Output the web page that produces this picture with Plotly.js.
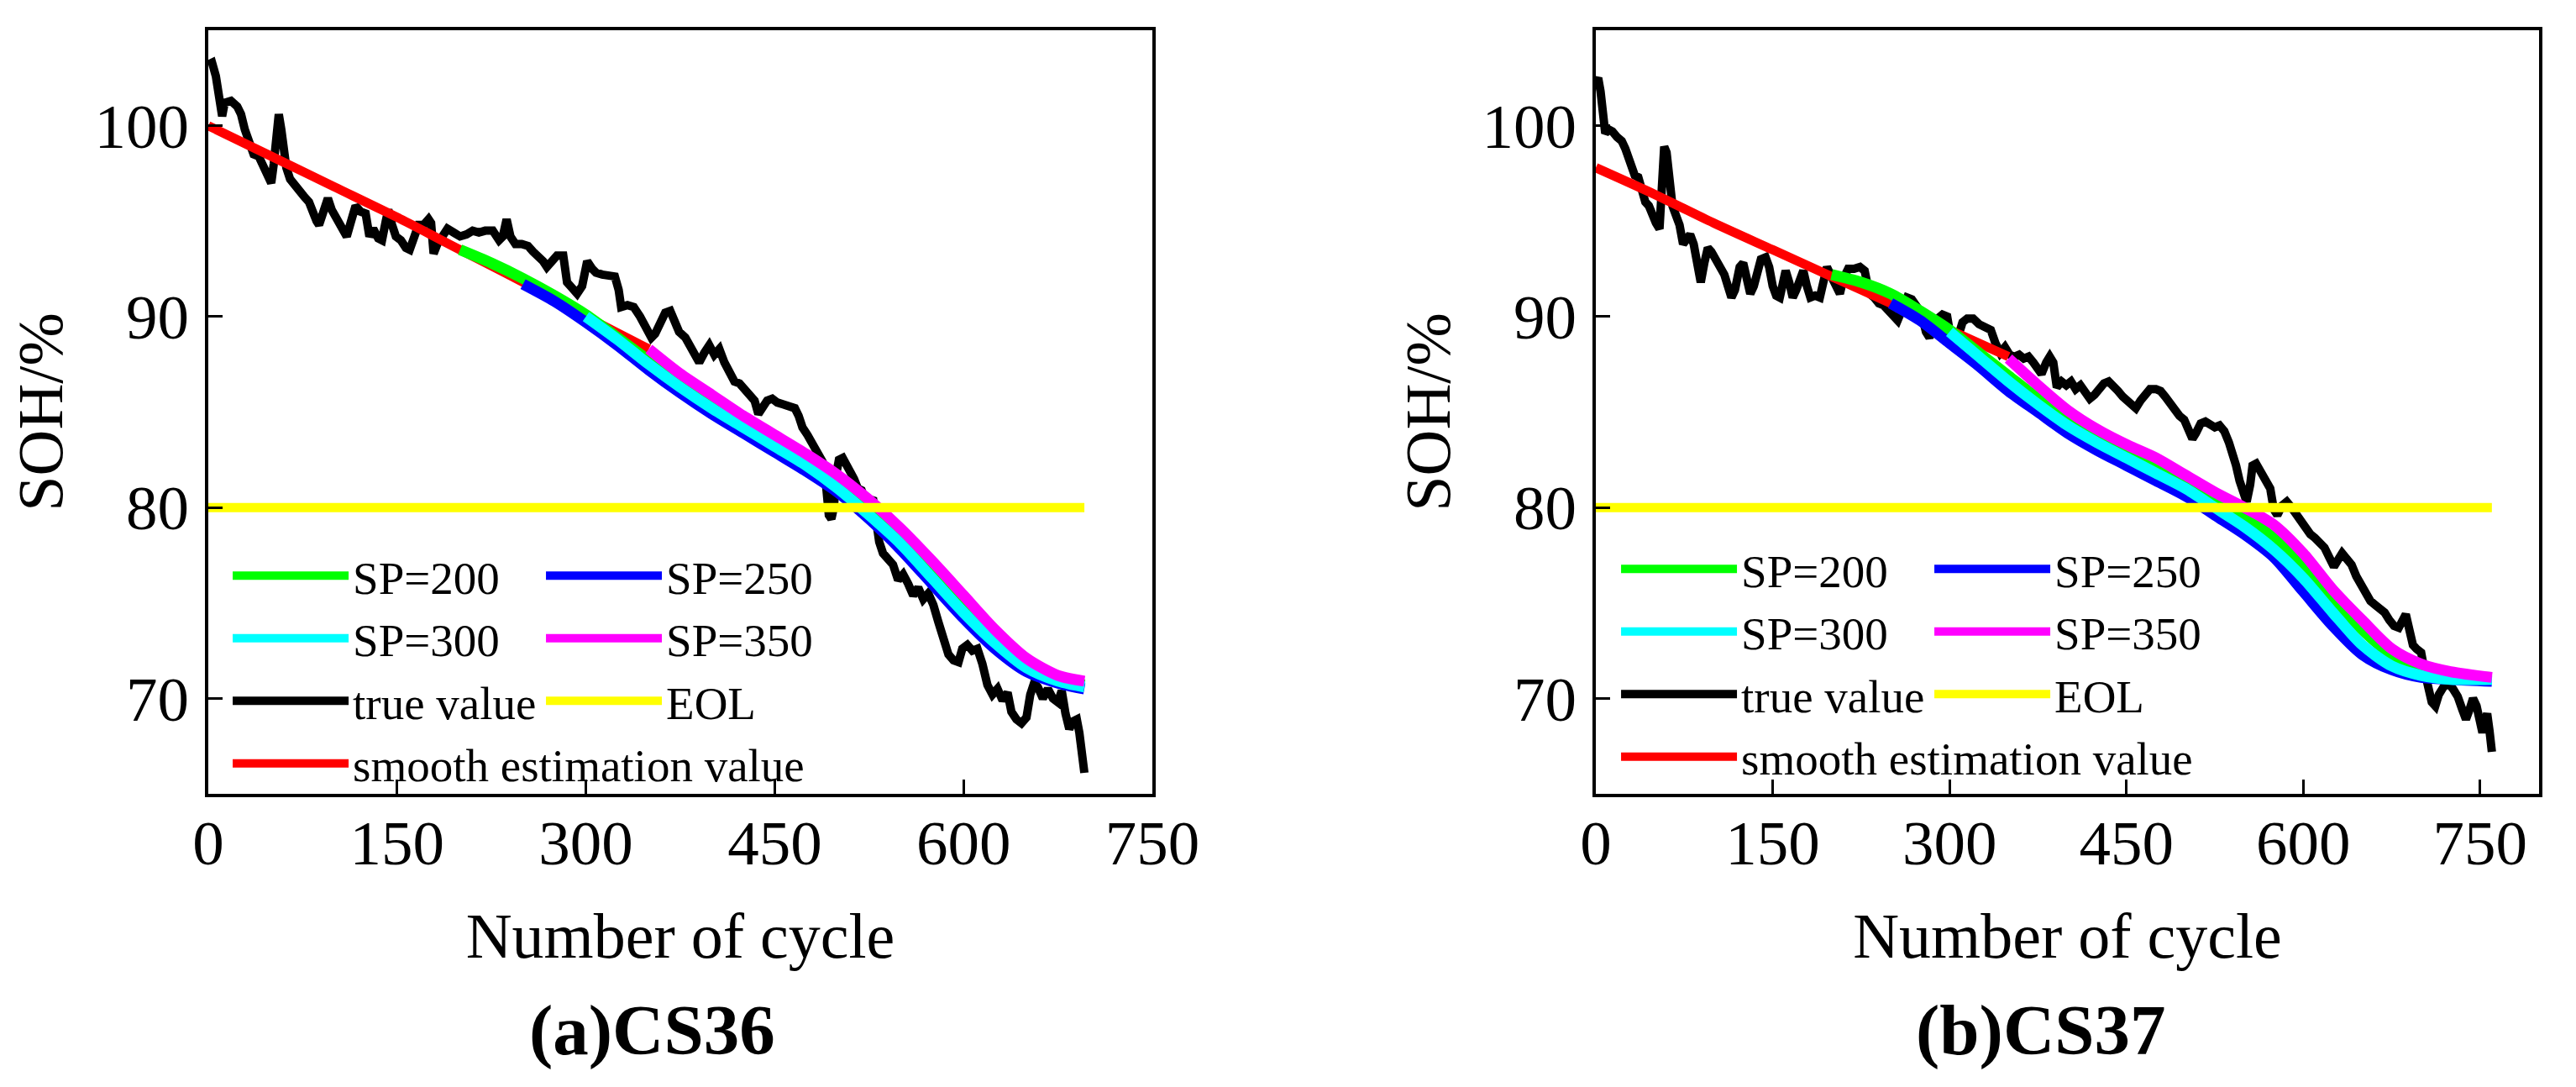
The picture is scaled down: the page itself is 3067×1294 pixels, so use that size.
<!DOCTYPE html>
<html>
<head>
<meta charset="utf-8">
<script src="https://cdn.plot.ly/plotly-3.0.1.min.js"></script>
<style>
  html, body { margin: 0; padding: 0; background: #fff; }
  #wrap { position: relative; width: 3067px; height: 1294px; overflow: hidden; }
  #pa { position: absolute; left: 0; top: 0; width: 1534px; height: 1294px; }
  #pb { position: absolute; left: 1534px; top: 0; width: 1533px; height: 1294px; }
</style>
</head>
<body>
<div id="wrap"><div id="pa"></div><div id="pb"></div></div>
<script>
// ---------- CS36 ----------
const cs36TrueX = [0,3,6,9,11,13,18,23,26,29,32,36,40,44,48,50,52,54,56,58,60,62,65,68,72,76,80,83,86,88,91,95,98,102,106,110,113,117,121,125,128,131,135,138,141,143,146,149,153,157,160,163,167,171,175,177,179,182,186,190,195,200,205,210,215,220,226,231,234,237,240,244,249,254,258,262,266,269,273,277,282,285,289,293,297,301,305,308,313,318,323,326,328,333,338,343,348,352,355,359,363,367,370,374,379,384,390,394,398,402,406,410,414,418,422,426,430,434,437,440,444,448,452,457,462,466,469,472,476,480,484,488,491,493,495,497,499,501,504,507,510,513,516,519,522,525,528,530,533,536,540,544,548,552,556,560,564,568,572,576,580,584,588,592,596,599,603,607,611,615,619,623,627,631,635,638,642,646,650,653,656,659,663,667,671,675,678,681,684,687,690,692,694,696];
const cs36TrueY = [103.2,103.3,102.6,100.8,100.5,101.2,101.3,101.0,100.6,99.8,99.2,98.5,98.4,97.8,97.2,97.0,98.0,100.2,100.6,99.8,98.6,97.8,97.2,96.9,96.6,96.3,96.0,95.4,95.0,94.8,95.4,96.2,95.6,95.1,94.8,94.2,94.9,95.8,95.5,95.4,94.2,94.6,94.1,94.0,95.0,95.6,94.8,94.2,94.0,93.6,93.5,94.2,94.8,94.8,95.1,94.9,93.3,93.8,94.3,94.6,94.4,94.2,94.3,94.5,94.4,94.5,94.5,94.0,94.2,95.1,94.2,93.8,93.8,93.7,93.4,93.2,92.9,92.6,92.9,93.2,93.2,91.8,91.5,91.2,91.6,92.9,92.5,92.3,92.2,92.1,92.1,91.4,90.5,90.6,90.5,90.0,89.4,88.9,89.1,89.8,90.2,90.3,89.8,89.2,88.9,88.2,87.6,88.1,88.5,88.0,88.3,87.6,87.1,86.6,86.5,86.2,85.9,85.6,84.9,85.2,85.6,85.7,85.5,85.4,85.3,85.2,84.8,84.2,83.8,83.4,83.0,82.4,81.0,79.6,79.4,80.0,81.8,82.5,82.6,82.3,81.9,81.5,81.0,80.9,80.4,80.3,80.5,79.2,78.2,77.6,77.2,77.0,76.2,76.5,76.0,75.4,75.8,75.2,75.5,74.9,74.0,73.2,72.3,72.0,71.9,72.6,72.8,72.5,72.6,71.8,70.7,70.2,70.5,69.9,70.3,69.3,68.9,68.7,69.0,70.2,70.8,70.6,70.0,70.5,70.0,69.8,70.4,69.2,68.4,68.8,68.9,68.2,67.0,66.1];
const cs36SmoothX = [0,50,100,150,200,250,300,350];
const cs36SmoothY = [100.0,98.4,96.8,95.2,93.5,91.8,90.0,88.3];
const cs36SP200X = [200,225,250,275,300,325,350,375,400,425,450,475,500,525,550,575,600,625,650,675,696];
const cs36SP200Y = [93.5,92.8,92.0,91.1,90.1,88.9,87.7,86.5,85.4,84.4,83.4,82.4,81.2,79.8,78.2,76.5,74.7,73.0,71.7,71.0,70.7];
const cs36SP250X = [250,275,300,325,350,375,400,425,450,475,500,525,550,575,600,625,650,675,696];
const cs36SP250Y = [91.7,90.8,89.7,88.5,87.2,86.0,84.9,83.9,82.9,81.9,80.8,79.4,77.8,76.0,74.2,72.6,71.4,70.8,70.5];
const cs36SP300X = [300,325,350,375,400,425,450,475,500,525,550,575,600,625,650,675,696];
const cs36SP300Y = [90.0,88.8,87.5,86.3,85.2,84.2,83.2,82.2,81.0,79.6,78.1,76.3,74.5,72.9,71.6,70.9,70.6];
const cs36SP350X = [350,375,400,425,450,475,500,525,550,575,600,625,650,675,696];
const cs36SP350Y = [88.3,87.0,85.9,84.8,83.8,82.8,81.7,80.4,78.9,77.2,75.4,73.6,72.1,71.2,70.9];
const cs36EolX = [0,696];
const cs36EolY = [80,80];

// ---------- CS37 ----------
const cs37TrueX = [0,2,4,6,8,11,14,18,22,25,27,30,33,36,39,42,45,48,51,54,56,58,60,62,65,68,71,74,77,80,83,86,89,92,95,98,102,106,109,112,115,118,122,125,128,131,134,137,140,144,147,150,153,156,159,161,164,167,170,173,176,179,182,186,190,193,196,199,203,207,210,214,219,224,228,232,236,240,244,248,252,256,260,264,268,272,276,280,283,286,290,294,298,301,304,307,311,315,320,325,330,335,339,343,347,351,355,359,363,367,371,375,378,382,385,388,391,395,399,403,407,411,415,419,423,427,431,435,439,443,447,451,455,458,462,466,470,475,479,483,487,491,495,499,503,506,509,513,517,521,525,529,533,537,540,543,546,549,552,555,557,560,563,566,569,572,575,578,582,586,590,594,598,602,606,610,614,618,622,626,630,633,637,641,645,649,653,657,661,665,669,673,677,681,684,687,690,693,696,700,703,706,709,712,715,719,723,727,731,735,738,741,744,747,750,752,754,756,758,760];
const cs37TrueY = [102.3,102.5,101.8,100.2,99.6,99.8,99.7,99.4,99.2,98.8,98.4,97.9,97.4,97.3,96.6,96.0,95.8,95.2,94.9,94.6,96.5,98.9,98.6,97.2,95.8,95.3,94.8,93.8,94.0,94.3,93.8,93.0,91.8,92.8,93.6,93.4,93.0,92.6,92.2,91.6,91.0,91.4,92.6,92.8,92.0,91.2,91.6,92.5,93.0,93.1,92.6,91.6,91.1,91.0,91.8,92.4,91.8,91.0,91.4,92.0,92.4,91.6,91.0,91.1,91.0,91.8,92.6,92.2,91.6,91.2,92.0,92.5,92.5,92.6,92.4,91.2,91.0,90.7,90.6,90.3,90.1,89.8,90.4,91.0,90.9,90.6,90.2,89.2,88.9,89.4,89.9,90.1,90.0,88.9,88.5,88.9,89.7,89.9,89.9,89.6,89.5,89.3,88.6,88.1,88.4,88.0,87.9,88.0,87.8,87.9,87.6,87.3,87.0,87.6,87.9,87.6,86.3,86.6,86.4,86.6,86.2,86.4,86.0,85.7,85.9,86.2,86.5,86.6,86.4,86.1,85.8,85.6,85.4,85.2,85.6,86.0,86.2,86.2,86.1,85.8,85.4,85.0,84.8,84.6,84.0,83.6,83.9,84.4,84.5,84.3,84.2,84.3,84.0,83.4,82.9,82.2,81.4,80.8,80.3,81.2,82.2,82.3,82.0,81.8,81.5,81.0,79.9,79.6,80.1,80.3,80.0,79.6,79.2,78.9,78.6,78.4,78.2,77.9,77.4,76.9,77.3,77.6,77.3,77.0,76.4,75.9,75.5,75.1,74.9,74.7,74.5,74.1,73.8,73.7,74.1,74.4,73.6,72.8,72.6,72.4,71.4,70.5,69.8,69.6,70.2,70.6,70.8,70.5,70.1,69.4,68.9,69.4,70.0,69.6,68.6,68.2,68.8,69.2,68.3,67.2];
const cs37SmoothX = [0,50,100,150,200,250,300,350];
const cs37SmoothY = [97.8,96.4,94.9,93.5,92.1,90.7,89.3,87.9];
const cs37SP200X = [200,225,250,275,300,325,350,375,400,425,450,475,500,525,550,575,600,625,650,675,700,725,760];
const cs37SP200Y = [92.2,91.8,91.2,90.3,89.3,88.1,86.9,85.7,84.6,83.7,82.9,82.1,81.3,80.4,79.5,78.4,77.0,75.3,73.6,72.3,71.5,71.2,71.1];
const cs37SP250X = [250,275,300,325,350,375,400,425,450,475,500,525,550,575,600,625,650,675,700,725,760];
const cs37SP250Y = [90.7,89.8,88.6,87.4,86.1,85.0,83.9,83.0,82.2,81.4,80.6,79.6,78.6,77.4,75.6,73.8,72.3,71.5,71.1,71.0,70.9];
const cs37SP300X = [300,325,350,375,400,425,450,475,500,525,550,575,600,625,650,675,700,725,760];
const cs37SP300Y = [89.2,87.9,86.6,85.4,84.3,83.4,82.6,81.8,81.0,80.0,79.0,77.8,76.3,74.5,72.8,71.7,71.2,71.0,71.0];
const cs37SP350X = [350,375,400,425,450,475,500,525,550,575,600,625,650,675,700,725,760];
const cs37SP350Y = [87.8,86.4,85.1,84.1,83.3,82.6,81.7,80.8,80.0,79.1,77.6,75.7,74.1,72.6,71.8,71.4,71.1];
const cs37EolX = [0,760];
const cs37EolY = [80,80];

const tickVals = [0,150,300,450,600,750];
const tickText = ['0','150','300','450','600','750'];
const yTickVals = [70,80,90,100];
const yTickText = ['70','80','90','100'];

const FONT = 'Liberation Serif, Times New Roman, serif';

function makeTraces(d) {
  const base = (name, x, y, color, w, rank, shape) => ({
    type: 'scatter', mode: 'lines', name, x, y,
    line: {color, width: w, shape: shape || 'linear', smoothing: 0.8},
    legendrank: rank, hoverinfo: 'skip'
  });
  return [
    base('true value', d.trueX, d.trueY, '#000000', 10, 5),
    base('smooth estimation value', d.smX, d.smY, '#ff0000', 11, 7, 'spline'),
    base('SP=200', d.s200x, d.s200y, '#00ff00', 13, 1, 'spline'),
    base('SP=250', d.s250x, d.s250y, '#0000ff', 13, 2, 'spline'),
    base('SP=300', d.s300x, d.s300y, '#00ffff', 13, 3, 'spline'),
    base('SP=350', d.s350x, d.s350y, '#ff00ff', 13, 4, 'spline'),
    base('EOL', d.eolX, d.eolY, '#ffff00', 11, 6)
  ];
}

function makeLayout(opt) {
  const axisCommon = {
    showline: true, mirror: true, linecolor: '#000', linewidth: 4,
    ticks: 'inside', ticklen: 17, tickwidth: 3, tickcolor: '#000',
    showgrid: false, zeroline: false,
    tickfont: {family: FONT, size: 75, color: '#000'}
  };
  return {
    width: opt.w, height: 1294,
    margin: {l: opt.l, r: opt.r, t: 36, b: 349, autoexpand: false},
    paper_bgcolor: '#fff', plot_bgcolor: '#fff',
    showlegend: true,
    font: {family: FONT, color: '#000'},
    xaxis: Object.assign({}, axisCommon, {
      range: [0, opt.xmax], tickmode: 'array', tickvals: tickVals, ticktext: tickText,
      automargin: false, ticklabelstandoff: -10,
      title: {text: 'Number of cycle', font: {family: FONT, size: 76, color: '#000'}, standoff: 44}
    }),
    yaxis: Object.assign({}, axisCommon, {
      range: [65, 105], tickmode: 'array', tickvals: yTickVals, ticktext: yTickText,
      automargin: false, ticklabelstandoff: 4,
      title: {text: 'SOH/%', font: {family: FONT, size: 76, color: '#000'}, standoff: 14}
    }),
    legend: {
      orientation: 'h', x: opt.legx, y: opt.legy, xanchor: 'left', yanchor: 'top',
      bgcolor: 'rgba(0,0,0,0)', bordercolor: 'rgba(0,0,0,0)', borderwidth: 20,
      itemwidth: 138, entrywidth: 220, entrywidthmode: 'pixels',
      font: {family: FONT, size: 55, color: '#000'},
      traceorder: 'normal', itemclick: false, itemdoubleclick: false
    },
    annotations: [{
      xref: 'paper', yref: 'paper', x: opt.tx, y: -0.31, xanchor: 'center', yanchor: 'middle',
      text: opt.title, showarrow: false,
      font: {family: FONT, size: 85, color: '#000', weight: 'bold'}
    }]
  };
}

const dataA = {trueX: cs36TrueX, trueY: cs36TrueY, smX: cs36SmoothX, smY: cs36SmoothY,
  s200x: cs36SP200X, s200y: cs36SP200Y, s250x: cs36SP250X, s250y: cs36SP250Y,
  s300x: cs36SP300X, s300y: cs36SP300Y, s350x: cs36SP350X, s350y: cs36SP350Y,
  eolX: cs36EolX, eolY: cs36EolY};
const dataB = {trueX: cs37TrueX, trueY: cs37TrueY, smX: cs37SmoothX, smY: cs37SmoothY,
  s200x: cs37SP200X, s200y: cs37SP200Y, s250x: cs37SP250X, s250y: cs37SP250Y,
  s300x: cs37SP300X, s300y: cs37SP300Y, s350x: cs37SP350X, s350y: cs37SP350Y,
  eolX: cs37EolX, eolY: cs37EolY};

const cfg = {displayModeBar: false, staticPlot: true};
Plotly.newPlot('pa', makeTraces(dataA),
  makeLayout({w: 1534, l: 248, r: 162, xmax: 750, legx: 0.0036, legy: 0.3542, tx: 0.4698, title: '(a)CS36'}), cfg);
Plotly.newPlot('pb', makeTraces(dataB),
  makeLayout({w: 1533, l: 366, r: 44, xmax: 800, legx: 0.0045, legy: 0.363, tx: 0.472, title: '(b)CS37'}), cfg);
</script>
</body>
</html>
